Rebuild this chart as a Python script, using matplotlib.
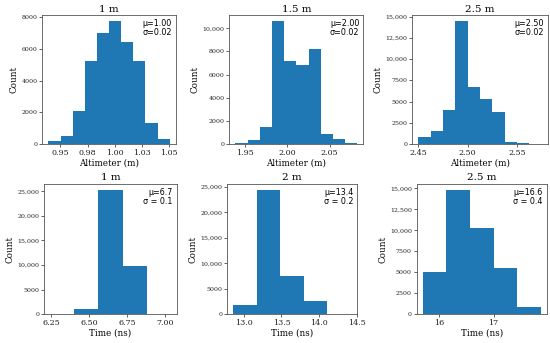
import matplotlib
matplotlib.use("Agg")
import matplotlib.pyplot as plt
import numpy as np
from matplotlib.ticker import FuncFormatter

# histogram edges / counts
alt_1m_edges = np.linspace(0.9389, 1.0506, 11)
alt_1m_counts = [210, 540, 2070, 5260, 7020, 7750, 6470, 5260, 1360, 350]

alt_15m_edges = np.linspace(1.939, 2.0824, 11)
alt_15m_counts = [90, 340, 1510, 10600, 7170, 6860, 8230, 910, 400, 90]

alt_25m_edges = np.linspace(2.45, 2.575, 11)
alt_25m_counts = [780, 1480, 4010, 14450, 6740, 5260, 3740, 195, 80, 20]

tof_1m_edges = np.linspace(6.245, 7.035, 6)
tof_1m_counts = [10, 1150, 25200, 9710, 140]

tof_2m_edges = np.linspace(12.858, 14.423, 6)
tof_2m_counts = [1900, 24340, 7550, 2690, 0]

tof_25m_edges = np.linspace(15.691, 17.870, 6)
tof_25m_counts = [5030, 14800, 10330, 5460, 880]

titles = ["1 m", "1.5 m", "2.5 m", "1 m", "2 m", "2.5 m"]
stats = ["μ=1.00\nσ=0.02", "μ=2.00\nσ=0.02", "μ=2.50\nσ=0.02",
         "μ=6.7\nσ = 0.1", "μ=13.4\nσ = 0.2", "μ=16.6\nσ = 0.4"]
xlabels = ["Altimeter (m)"] * 3 + ["Time (ns)"] * 3

x_ticks = [
    [0.95, 0.975, 1.0, 1.025, 1.05],
    [1.95, 2.0, 2.05],
    [2.45, 2.5, 2.55],
    [6.25, 6.5, 6.75, 7.0],
    [13.0, 13.5, 14.0, 14.5],
    [16, 17],
]
x_ticklabels = [
    ["0.95", "0.98", "1.00", "1.03", "1.05"],
    ["1.95", "2.00", "2.05"],
    ["2.45", "2.50", "2.55"],
    ["6.25", "6.50", "6.75", "7.00"],
    ["13.0", "13.5", "14.0", "14.5"],
    ["16", "17"],
]
y_ticks = [
    [0, 2000, 4000, 6000, 8000],
    [0, 2000, 4000, 6000, 8000, 10000],
    [0, 2500, 5000, 7500, 10000, 12500, 15000],
    [0, 5000, 10000, 15000, 20000, 25000],
    [0, 5000, 10000, 15000, 20000, 25000],
    [0, 2500, 5000, 7500, 10000, 12500, 15000],
]

panels = [
    (alt_1m_edges, alt_1m_counts),
    (alt_15m_edges, alt_15m_counts),
    (alt_25m_edges, alt_25m_counts),
    (tof_1m_edges, tof_1m_counts),
    (tof_2m_edges, tof_2m_counts),
    (tof_25m_edges, tof_25m_counts),
]

positions = [
    [0.077, 0.580, 0.2425, 0.376],
    [0.417, 0.580, 0.2436, 0.376],
    [0.7496, 0.580, 0.246, 0.376],
    [0.0805, 0.0837, 0.2407, 0.380],
    [0.413, 0.0837, 0.2364, 0.380],
    [0.7576, 0.0837, 0.2364, 0.380],
]


def count_fmt(v, _):
    v = int(round(v))
    return f"{v:,}" if v >= 10000 else str(v)


fig = plt.figure(figsize=(5.5, 3.43), dpi=100)

for i, ((edges, counts), pos) in enumerate(zip(panels, positions)):
    ax = fig.add_axes(pos)
    ax.bar(edges[:-1], counts, width=np.diff(edges), align="edge",
           color="#1f77b4", linewidth=0)
    ax.margins(x=0.05, y=0.05)
    ax.set_ylim(bottom=0)
    if i == 4:
        ax.set_xlim(right=14.505)
    ax.set_title(titles[i], family="DejaVu Serif", fontsize=7.5, pad=2.5)
    ax.set_xlabel(xlabels[i], family="DejaVu Serif", fontsize=6.3, labelpad=1)
    ax.set_ylabel("Count", family="DejaVu Serif", fontsize=6.3, labelpad=2)
    ax.set_xticks(x_ticks[i])
    ax.set_xticklabels(x_ticklabels[i])
    ax.set_yticks(y_ticks[i])
    ax.yaxis.set_major_formatter(FuncFormatter(count_fmt))
    for lab in ax.get_xticklabels():
        lab.set_family("DejaVu Serif")
        lab.set_fontsize(5.8)
    for lab in ax.get_yticklabels():
        lab.set_family("DejaVu Serif")
        lab.set_fontsize(4.5)
    ax.tick_params(length=2, width=0.5, pad=1.5, colors="#222222")
    for sp in ax.spines.values():
        sp.set_linewidth(0.6)
        sp.set_color("#555555")
    ax.text(0.97, 0.97, stats[i], transform=ax.transAxes, ha="right",
            va="top", multialignment="right", fontsize=5.8,
            family="DejaVu Sans", linespacing=1.0)

fig.savefig("out.png", dpi=100)
